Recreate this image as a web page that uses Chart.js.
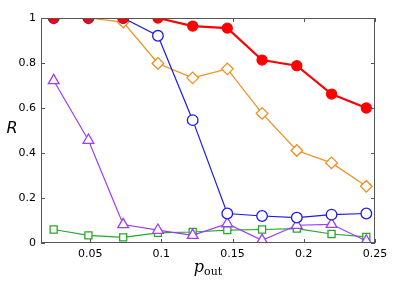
<!DOCTYPE html>
<html><head><meta charset="utf-8">
<script src="https://cdn.jsdelivr.net/npm/chart.js@4"></script>
<style>html,body{margin:0;padding:0;background:#fff}#wrap{width:415px;height:281px}</style>
</head><body><div id="wrap"><canvas id="c" width="415" height="281"></canvas></div>
<script>
const pOut = [0.0244, 0.0488, 0.0732, 0.0976, 0.122, 0.1463, 0.1707, 0.1951, 0.2195, 0.2439];
const redR    = [1, 1, 1, 1, 0.964, 0.955, 0.813, 0.788, 0.662, 0.600];
const blueR   = [1, 1, 1, 0.921, 0.546, 0.131, 0.120, 0.113, 0.126, 0.131];
const orangeR = [1, 1, 0.982, 0.798, 0.734, 0.774, 0.576, 0.411, 0.356, 0.252];
const purpleR = [0.722, 0.457, 0.082, 0.057, 0.034, 0.086, 0.012, 0.079, 0.083, 0.009];
const greenR  = [0.060, 0.034, 0.025, 0.045, 0.049, 0.057, 0.060, 0.064, 0.040, 0.027];
const xTicks = [0.05, 0.1, 0.15, 0.2, 0.25];
const yTicks = [0, 0.2, 0.4, 0.6, 0.8, 1];

const pts = arr => arr.map((v, i) => ({x: pOut[i], y: v}));

const frame = {
  id: 'frame',
  afterDraw(chart) {
    const {ctx, chartArea: a, scales: {x, y}} = chart;
    ctx.save();
    ctx.strokeStyle = '#555';
    ctx.lineWidth = 1;
    ctx.strokeRect(a.left + 0.5, a.top + 0.5, a.right - a.left - 1, a.bottom - a.top - 1);
    ctx.beginPath();
    xTicks.forEach(t => {
      const px = Math.round(x.getPixelForValue(t)) + 0.5;
      ctx.moveTo(px, a.bottom); ctx.lineTo(px, a.bottom - 4);
      ctx.moveTo(px, a.top); ctx.lineTo(px, a.top + 4);
    });
    yTicks.forEach(t => {
      const py = Math.round(y.getPixelForValue(t)) + 0.5;
      ctx.moveTo(a.left, py); ctx.lineTo(a.left + 4, py);
      ctx.moveTo(a.right, py); ctx.lineTo(a.right - 4, py);
    });
    ctx.stroke();
    ctx.fillStyle = '#000';
    ctx.textBaseline = 'alphabetic';
    ctx.font = 'italic 16px "DejaVu Serif"';
    const cx = (a.left + a.right) / 2;
    ctx.textAlign = 'left';
    const pw = ctx.measureText('p').width;
    ctx.font = '11px "DejaVu Serif"';
    const ow = ctx.measureText('out').width;
    const start = cx - (pw + ow) / 2;
    ctx.font = 'italic 16px "DejaVu Serif"';
    ctx.fillText('p', start, 272);
    ctx.font = '11px "DejaVu Serif"';
    ctx.fillText('out', start + pw, 275);
    ctx.font = 'italic 16px "DejaVu Sans"';
    ctx.textAlign = 'center';
    ctx.textBaseline = 'middle';
    ctx.fillText('R', 12, 129);
    ctx.restore();
  }
};

const ds = (label, data, color, style, radius, filled, lw, order) => ({
  label, data: pts(data), borderColor: color, borderWidth: lw,
  pointStyle: style, pointRadius: radius, pointBorderWidth: 1.3,
  pointBackgroundColor: filled ? color : '#fff', pointBorderColor: color,
  pointHoverRadius: radius, fill: false, tension: 0, order
});

new Chart(document.getElementById('c'), {
  type: 'line',
  data: {
    datasets: [
      ds('red', redR, '#ff0000', 'circle', 5, true, 2.2, 0),
      ds('blue', blueR, '#1a1aee', 'circle', 5.3, false, 1.2, 1),
      ds('orange', orangeR, '#ef8e1d', 'rectRot', 5.8, false, 1.2, 2),
      ds('purple', purpleR, '#9b3cff', 'triangle', 6.2, false, 1.2, 3),
      ds('green', greenR, '#26a926', 'rect', 5, false, 1.2, 4)
    ]
  },
  options: {
    responsive: false, animation: false, devicePixelRatio: 1,
    layout: {padding: {left: 0, right: 40, top: 18, bottom: 0}},
    plugins: {legend: {display: false}, tooltip: {enabled: false}},
    scales: {
      x: {
        type: 'linear', min: 0.0155, max: 0.25,
        afterBuildTicks: s => { s.ticks = xTicks.map(v => ({value: v})); },
        afterFit: s => { s.height = 38; },
        grid: {display: false, drawTicks: false},
        border: {display: false},
        ticks: {padding: 5, color: '#000', font: {family: 'DejaVu Sans', size: 11},
          maxRotation: 0, autoSkip: false, callback: v => String(v)}
      },
      y: {
        min: 0, max: 1,
        afterBuildTicks: s => { s.ticks = yTicks.map(v => ({value: v})); },
        afterFit: s => { s.width = 41; },
        grid: {display: false, drawTicks: false},
        border: {display: false},
        ticks: {padding: 5, color: '#000', font: {family: 'DejaVu Sans', size: 11},
          autoSkip: false, callback: v => String(v)}
      }
    }
  },
  plugins: [frame]
});
</script></body></html>
